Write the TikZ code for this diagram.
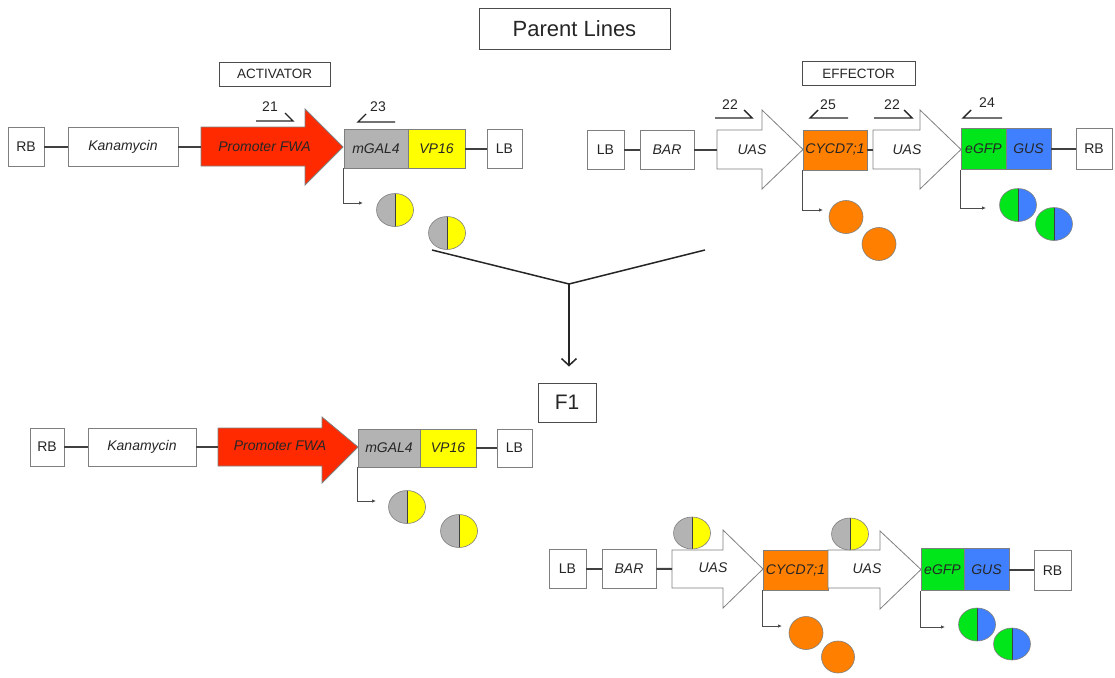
\documentclass[tikz,border=0pt]{standalone}
\usepackage{fontspec}
\setmainfont{Liberation Sans}
\usetikzlibrary{arrows.meta,positioning,shapes.geometric}

\definecolor{fwared}{HTML}{FF2A00}
\definecolor{galgray}{HTML}{B3B3B3}
\definecolor{vpyellow}{HTML}{FFFF00}
\definecolor{cycorange}{HTML}{FF7F00}
\definecolor{gfpgreen}{HTML}{00E61A}
\definecolor{gusblue}{HTML}{4080FF}
\definecolor{edgegray}{HTML}{7F7F7F}

\begin{document}
\begin{tikzpicture}[x=1pt, y=-1pt,
  every node/.style={font=\fontsize{14}{16}\selectfont, text=black!85},
  part/.style={rectangle, draw=edgegray, line width=0.8pt, fill=white, inner sep=0pt, minimum height=39pt},
  gene/.style={part, font=\fontsize{14}{16}\selectfont\itshape},
  label/.style={rectangle, draw=black!70, line width=0.9pt, inner sep=0pt, minimum height=24pt},
  promoter/.style={draw=edgegray, line width=0.8pt},
  link/.style={line width=2pt, black!75},
  primer/.style={line width=1.4pt, black!85, line join=miter},
  expr/.style={line width=0.8pt, black!70, -{Latex[length=4pt, width=3.5pt]}},
  cross/.style={line width=1.5pt, black!85},
  fulldot/.style={ellipse, draw=edgegray, line width=0.6pt, fill=cycorange, inner sep=0pt, minimum width=34pt, minimum height=33pt},
  halfdot/.style 2 args={ellipse, draw=edgegray, line width=0.6pt, inner sep=0pt, minimum width=37pt, minimum height=33pt,
    path picture={
      \fill[#1] (path picture bounding box.south west) rectangle (path picture bounding box.north);
      \fill[#2] (path picture bounding box.south) rectangle (path picture bounding box.north east);
      \draw[black!75, line width=0.9pt] (path picture bounding box.south) -- (path picture bounding box.north);}}
]
  \useasboundingbox (0,0) rectangle (1115,677);

  % titles
  \node[label, minimum width=191pt, minimum height=41pt, font=\fontsize{22}{24}\selectfont] (parent) at (574.5,28.5) {Parent Lines};
  \node[label, minimum width=111pt, font=\fontsize{13.5}{15}\selectfont] (activator) at (274.5,74) {ACTIVATOR};
  \node[label, minimum width=113pt, font=\fontsize{13.5}{15}\selectfont] (effector) at (858.5,73.5) {EFFECTOR};

  % activator, parent line
  \node[part, minimum width=36pt] (rbA) at (26,146.5) {RB};
  \node[gene, minimum width=110pt] (kanA) at (123,146.5) {Kanamycin};
  \draw[promoter, fill=fwared] (201,127) -- (305,127) -- (305,109) -- (343,147) -- (305,185) -- (305,166) -- (201,166) -- cycle;
  \coordinate (fwaAin) at (201,146.5);
  \node[font=\fontsize{14}{16}\selectfont\itshape] (fwaA) at (264.5,147) {Promoter FWA};
  \node[gene, fill=galgray, minimum width=64pt] (galA) at (376,148.5) {mGAL4};
  \node[gene, fill=vpyellow, minimum width=57pt] (vpA) at (436.5,148.5) {VP16};
  \node[part, minimum width=35pt] (lbA) at (504.5,148.5) {LB};
  \draw[link] (rbA) -- (kanA);
  \draw[link] (kanA) -- (fwaAin);
  \draw[link] (vpA) -- (lbA);

  \coordinate (p21s) at (256,121);
  \coordinate (p21e) at (293,121);
  \draw[primer] (p21s) -- (p21e) -- ++(-8,-8);
  \node (n21) at (270,107) {21};
  \coordinate (p23s) at (395,122);
  \coordinate (p23e) at (358,122);
  \draw[primer] (p23s) -- (p23e) -- ++(8,-8);
  \node (n23) at (378,107) {23};

  \coordinate (exA) at (363,203);
  \draw[expr] (galA.south west) |- (exA);
  \node[halfdot={galgray}{vpyellow}] (dotA1) at (395,210) {};
  \node[halfdot={galgray}{vpyellow}] (dotA2) at (447,233) {};

  % effector, parent line
  \node[part, minimum width=37pt] (lbE) at (605.5,149.5) {LB};
  \node[gene, minimum width=54pt] (barE) at (667,149.5) {BAR};
  \draw[promoter, fill=white] (717,130) -- (762,130) -- (762,110) -- (803,149.5) -- (762,189) -- (762,169) -- (717,169) -- cycle;
  \coordinate (uasEin) at (717,149.5);
  \node[font=\fontsize{14}{16}\selectfont\itshape] (uasE1) at (752,150) {UAS};
  \node[gene, fill=cycorange, minimum width=64pt, minimum height=40pt] (cycE) at (835,150) {CYCD7;1};
  \draw[promoter, fill=white] (873,130) -- (920,130) -- (920,110) -- (961,149.5) -- (920,189) -- (920,169) -- (873,169) -- cycle;
  \coordinate (uasE2in) at (873,150);
  \node[font=\fontsize{14}{16}\selectfont\itshape] (uasE2) at (907,150) {UAS};
  \node[gene, fill=gfpgreen, minimum width=45pt, minimum height=41pt] (gfpE) at (983.5,149) {eGFP};
  \node[gene, fill=gusblue, minimum width=45pt, minimum height=41pt] (gusE) at (1028.5,149) {GUS};
  \node[part, minimum width=36pt, minimum height=41pt] (rbE) at (1094,149) {RB};
  \draw[link] (lbE) -- (barE);
  \draw[link] (barE) -- (uasEin);
  \draw[link] (cycE) -- (uasE2in);
  \draw[link] (gusE) -- (rbE);

  \coordinate (p22s) at (715,118);
  \coordinate (p22e) at (752,118);
  \draw[primer] (p22s) -- (p22e) -- ++(-8,-8);
  \node (n22) at (730,105) {22};
  \coordinate (p25s) at (848,118);
  \coordinate (p25e) at (810,118);
  \draw[primer] (p25s) -- (p25e) -- ++(8,-8);
  \node (n25) at (828,105) {25};
  \coordinate (p22bs) at (874,118);
  \coordinate (p22be) at (912,118);
  \draw[primer] (p22bs) -- (p22be) -- ++(-8,-8);
  \node (n22b) at (892,105) {22};
  \coordinate (p24s) at (1002,118);
  \coordinate (p24e) at (963,118);
  \draw[primer] (p24s) -- (p24e) -- ++(8,-8);
  \node (n24) at (987,103) {24};

  \coordinate (exE1) at (823,210);
  \draw[expr] (cycE.south west) |- (exE1);
  \node[fulldot] (cycdot1) at (846,217) {};
  \node[fulldot] (cycdot2) at (879,244) {};
  \coordinate (exE2) at (986,208);
  \draw[expr] (gfpE.south west) |- (exE2);
  \node[halfdot={gfpgreen}{gusblue}] (gfpdot1) at (1018,205) {};
  \node[halfdot={gfpgreen}{gusblue}] (gfpdot2) at (1054,224) {};

  % cross
  \coordinate (crossL) at (432,250);
  \coordinate (crossR) at (705,250);
  \coordinate (crossM) at (569,284);
  \node[label, minimum width=58pt, minimum height=39pt, font=\fontsize{21}{23}\selectfont] (f1) at (567,402.5) {F1};
  \draw[cross] (crossL) -- (crossM) -- (crossR);
  \draw[cross, -{Straight Barb[length=7pt, width=15pt]}] (crossM) -- ([yshift=16pt]f1.north -| crossM);

  % activator, F1
  \node[part, minimum width=34pt, minimum height=38pt] (rbF) at (47,447) {RB};
  \node[gene, minimum width=108pt, minimum height=38pt] (kanF) at (142,447) {Kanamycin};
  \draw[promoter, fill=fwared] (218,428) -- (322,428) -- (322,417) -- (358,447) -- (322,483) -- (322,466) -- (218,466) -- cycle;
  \coordinate (fwaFin) at (218,447);
  \node[font=\fontsize{14}{16}\selectfont\itshape] (fwaF) at (280,446) {Promoter FWA};
  \node[gene, fill=galgray, minimum width=62pt, minimum height=38pt] (galF) at (389,448) {mGAL4};
  \node[gene, fill=vpyellow, minimum width=56pt, minimum height=38pt] (vpF) at (448,448) {VP16};
  \node[part, minimum width=35pt, minimum height=38pt] (lbF) at (514.5,448) {LB};
  \draw[link] (rbF) -- (kanF);
  \draw[link] (kanF) -- (fwaFin);
  \draw[link] (vpF) -- (lbF);

  \coordinate (exF) at (376,501);
  \draw[expr] (galF.south west) |- (exF);
  \node[halfdot={galgray}{vpyellow}] (dotF1) at (407,507) {};
  \node[halfdot={galgray}{vpyellow}] (dotF2) at (459,531) {};

  % effector, F1
  \node[part, minimum width=37pt] (lbG) at (567.5,568.5) {LB};
  \node[gene, minimum width=54pt] (barG) at (629,568.5) {BAR};
  \draw[promoter, fill=white] (672,550) -- (723,550) -- (723,530) -- (763,569) -- (723,608) -- (723,588) -- (672,588) -- cycle;
  \coordinate (uasGin) at (672,569);
  \node[font=\fontsize{14}{16}\selectfont\itshape] (uasG1) at (713,568) {UAS};
  \node[gene, fill=cycorange, minimum width=65pt, minimum height=40pt] (cycG) at (795.5,570) {CYCD7;1};
  \draw[promoter, fill=white] (828,550) -- (880,550) -- (880,531) -- (921,569.5) -- (880,609) -- (880,588) -- (828,588) -- cycle;
  \node[font=\fontsize{14}{16}\selectfont\itshape] (uasG2) at (867,569) {UAS};
  \node[gene, fill=gfpgreen, minimum width=43pt, minimum height=42pt] (gfpG) at (942.5,569.5) {eGFP};
  \node[gene, fill=gusblue, minimum width=45pt, minimum height=42pt] (gusG) at (986.5,569.5) {GUS};
  \node[part, minimum width=37pt, minimum height=40pt] (rbG) at (1052.5,570.5) {RB};
  \draw[link] (lbG) -- (barG);
  \draw[link] (barG) -- (uasGin);
  \draw[link] (gusG.east) -- (gusG.east -| rbG.west);

  \node[halfdot={galgray}{vpyellow}, minimum height=32pt] (bindG1) at (692,533) {};
  \node[halfdot={galgray}{vpyellow}, minimum height=32pt] (bindG2) at (850,534) {};

  \coordinate (exG1) at (782,626);
  \draw[expr] (cycG.south west) |- (exG1);
  \node[fulldot] (cycdotG1) at (806,633) {};
  \node[fulldot, minimum height=32pt, minimum width=33pt] (cycdotG2) at (838,657) {};
  \coordinate (exG2) at (945,627);
  \draw[expr] (gfpG.south west) |- (exG2);
  \node[halfdot={gfpgreen}{gusblue}] (gfpdotG1) at (977,624.5) {};
  \node[halfdot={gfpgreen}{gusblue}, minimum height=32pt] (gfpdotG2) at (1012,644) {};
\end{tikzpicture}
\end{document}
